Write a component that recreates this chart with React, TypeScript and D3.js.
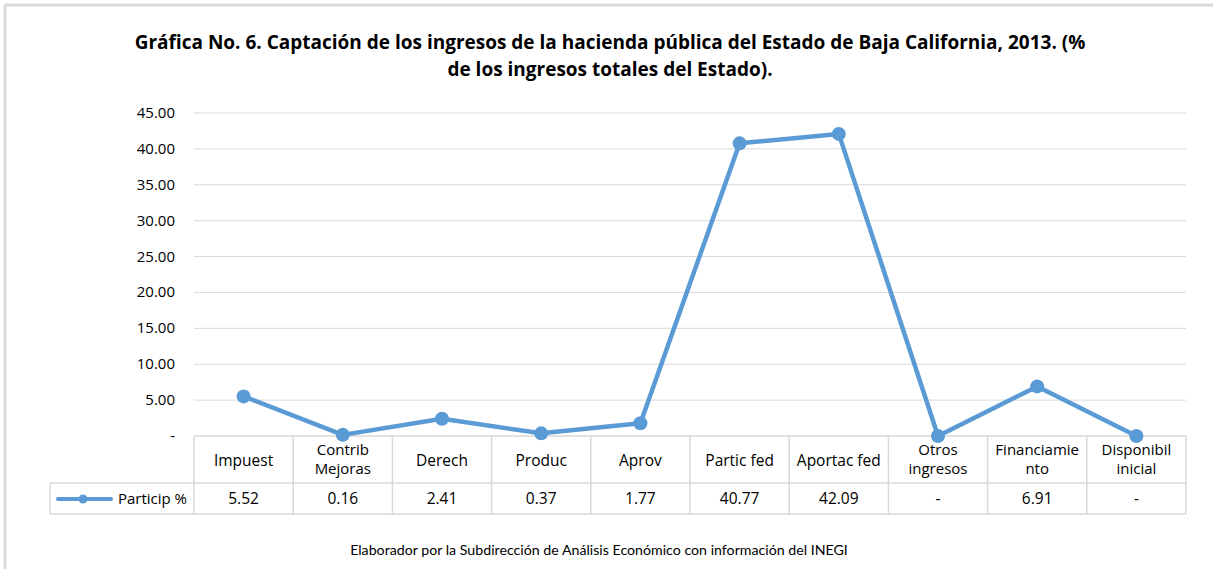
import React from "react";
import * as d3 from "d3";

const categories: string[][] = [
  ["Impuest"],
  ["Contrib", "Mejoras"],
  ["Derech"],
  ["Produc"],
  ["Aprov"],
  ["Partic fed"],
  ["Aportac fed"],
  ["Otros", "ingresos"],
  ["Financiamie", "nto"],
  ["Disponibil", "inicial"],
];
const values: number[] = [5.52, 0.16, 2.41, 0.37, 1.77, 40.77, 42.09, 0, 6.91, 0];
const valueLabels: string[] = ["5.52", "0.16", "2.41", "0.37", "1.77", "40.77", "42.09", "-", "6.91", "-"];
const yTicks: number[] = [0, 5, 10, 15, 20, 25, 30, 35, 40, 45];
const seriesName = "Particip %";
const titleLines = [
  "Gráfica No. 6. Captación de los ingresos de la hacienda pública del Estado de Baja California, 2013. (%",
  "de los ingresos totales del Estado).",
];
const footer = "Elaborador por la Subdirección de Análisis Económico con información del INEGI";

const W = 1213;
const H = 569;
const FONT = "'Open Sans', Lato, sans-serif";
const BLUE = "#5B9BD5";
const GRID = "#d9d9d9";

export default function App() {
  const plotLeft = 194;
  const plotRight = 1186;
  const x = d3
    .scaleBand<number>()
    .domain(d3.range(categories.length))
    .range([plotLeft, plotRight]);
  const y = d3.scaleLinear().domain([0, 45]).range([436, 113]);
  const headerBottom = 483;
  const tableBottom = 514;
  const legendLeft = 50;

  const line = d3
    .line<number>()
    .x((_, i) => (x(i) as number) + x.bandwidth() / 2)
    .y((d) => y(d));

  return (
    <svg
      width={W}
      height={H}
      style={{ position: "absolute", left: 0, top: 0, background: "#fff" }}
      fontFamily={FONT}
    >
      <rect x={0} y={0} width={W} height={H} fill="#fff" />
      {/* frame */}
      <line x1={5} y1={5} x2={W} y2={5} stroke={GRID} strokeWidth={3} />
      <line x1={5} y1={5} x2={5} y2={H} stroke={GRID} strokeWidth={3} />

      {/* title */}
      {titleLines.map((t, i) => (
        <text
          key={i}
          x={610}
          y={49 + i * 27}
          textAnchor="middle"
          fontSize={19}
          fontWeight="bold"
          fill="#000"
        >
          {t}
        </text>
      ))}

      {/* grid */}
      {yTicks.map((t) => (
        <g key={t}>
          {t > 0 && (
            <line x1={plotLeft} x2={plotRight} y1={y(t)} y2={y(t)} stroke={GRID} strokeWidth={1} />
          )}
          <text x={175} y={y(t) + 5} textAnchor="end" fontSize={15} fill="#000">
            {t === 0 ? "-" : t.toFixed(2)}
          </text>
        </g>
      ))}

      {/* table */}
      <g stroke={GRID} strokeWidth={1.5} fill="none">
        <line x1={plotLeft} x2={plotRight} y1={y(0)} y2={y(0)} />
        <line x1={legendLeft} x2={plotRight} y1={headerBottom} y2={headerBottom} />
        <line x1={legendLeft} x2={plotRight} y1={tableBottom} y2={tableBottom} />
        <line x1={legendLeft} x2={legendLeft} y1={headerBottom} y2={tableBottom} />
        {d3.range(categories.length + 1).map((i) => {
          const xx = i < categories.length ? (x(i) as number) : plotRight;
          return <line key={i} x1={xx} x2={xx} y1={y(0)} y2={tableBottom} />;
        })}
      </g>
      {categories.map((c, i) => {
        const cx = (x(i) as number) + x.bandwidth() / 2;
        return (
          <g key={i}>
            {c.map((l, j) => (
              <text
                key={j}
                x={cx}
                y={c.length === 1 ? 466 : 455 + j * 19}
                textAnchor="middle"
                fontSize={c.length === 1 ? 15.5 : 15}
                fill="#000"
              >
                {l}
              </text>
            ))}
            <text x={cx} y={504} textAnchor="middle" fontSize={15.5} fill="#000">
              {valueLabels[i]}
            </text>
          </g>
        );
      })}

      {/* legend in table */}
      <line x1={58} x2={111} y1={499} y2={499} stroke={BLUE} strokeWidth={4} strokeLinecap="round" />
      <circle cx={83} cy={499} r={4.5} fill={BLUE} />
      <text x={187} y={504} textAnchor="end" fontSize={15} fill="#000">
        {seriesName}
      </text>

      {/* series */}
      <path d={line(values) || ""} fill="none" stroke={BLUE} strokeWidth={4.5} strokeLinejoin="round" />
      {values.map((v, i) => (
        <circle key={i} cx={(x(i) as number) + x.bandwidth() / 2} cy={y(v)} r={7} fill={BLUE} />
      ))}

      {/* footer */}
      <text x={599} y={555} textAnchor="middle" fontSize={14.2} fill="#000" fontFamily="Lato, sans-serif">
        {footer}
      </text>
    </svg>
  );
}
